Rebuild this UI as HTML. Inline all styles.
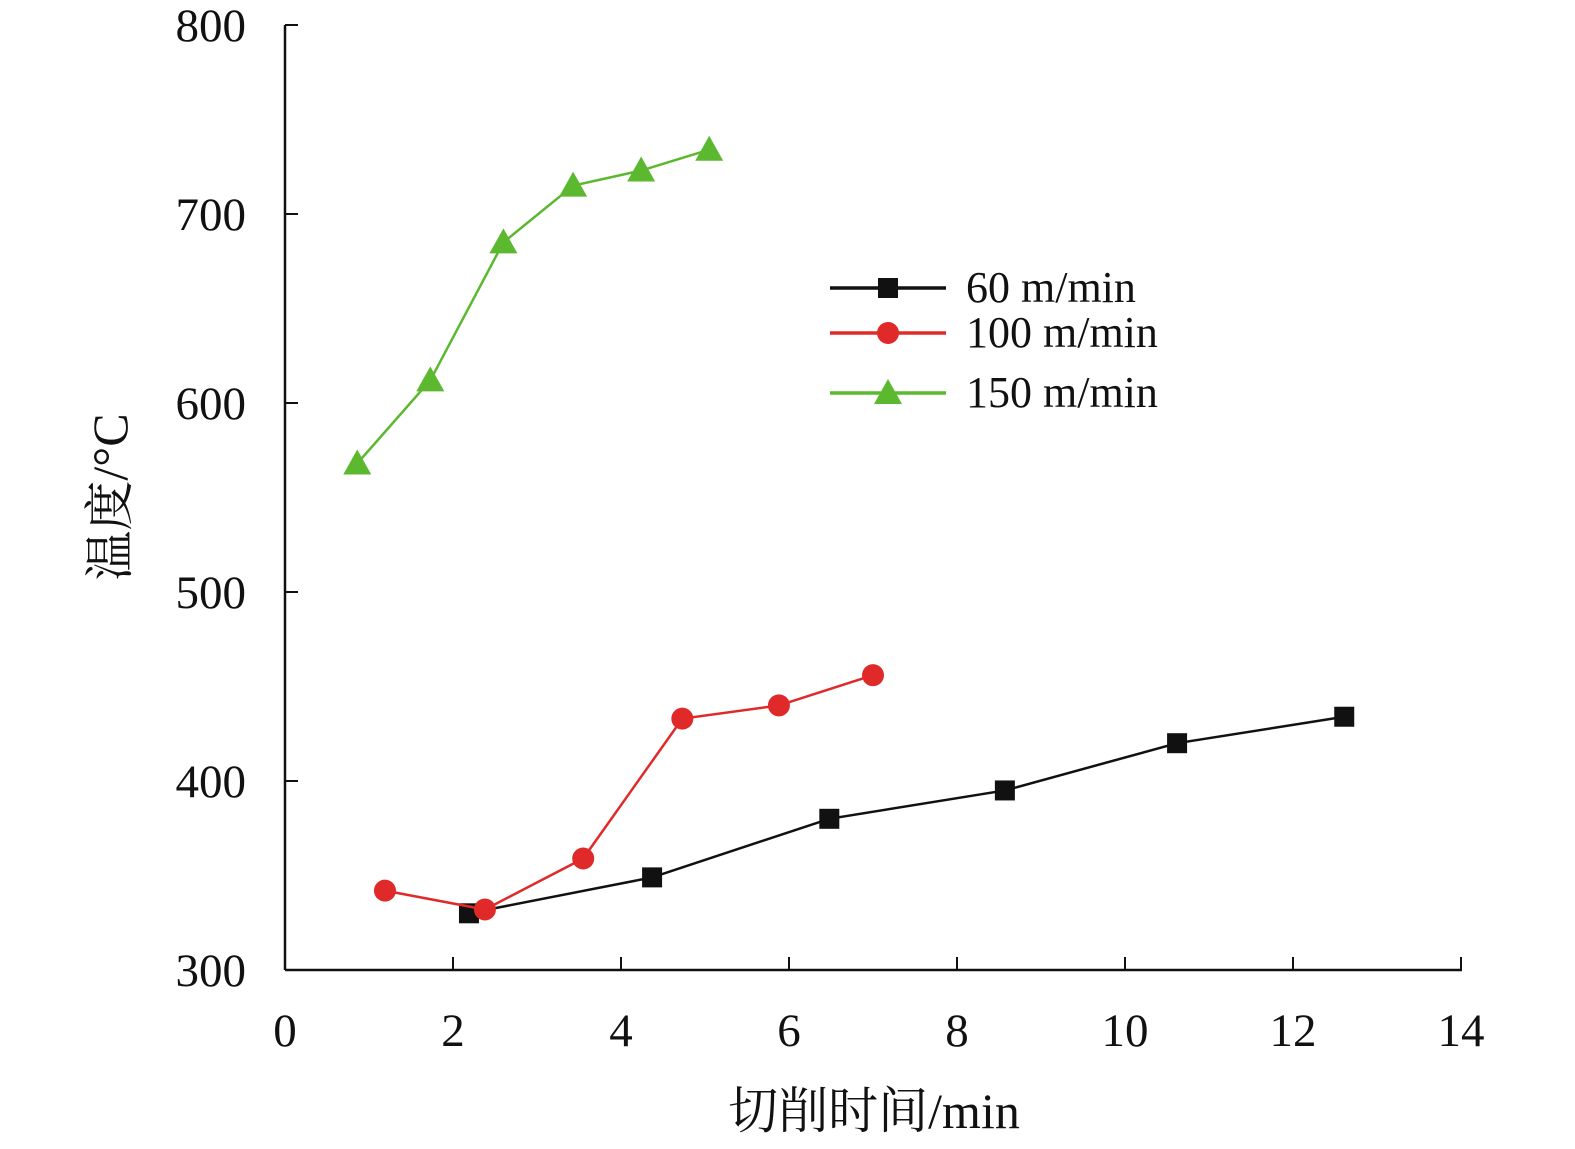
<!DOCTYPE html>
<html><head><meta charset="utf-8"><style>
html,body{margin:0;padding:0;background:#fff;overflow:hidden;}
svg{display:block;}
svg text{font-family:"Liberation Serif","Noto Serif CJK SC",serif;fill:#111;}
</style></head><body>
<svg id="chart" width="1575" height="1149">
<g id="axes"></g>
<g id="plot"></g>
<g id="legend"></g>
<text x="110" y="497" font-size="50" text-anchor="middle" dominant-baseline="central" transform="rotate(-90 110 497)">温度/°C</text>
<text x="874" y="1128" font-size="50" text-anchor="middle">切削时间/min</text>
</svg>
<script>
const xTicks=[0,2,4,6,8,10,12,14];
const yTicks=[300,400,500,600,700,800];
const s60x=[2.19,4.37,6.48,8.57,10.62,12.61];
const s60y=[330,349,380,395,420,434];
const s100x=[1.19,2.38,3.55,4.73,5.88,7.0];
const s100y=[342,332,359,433,440,456];
const s150x=[0.86,1.73,2.6,3.43,4.24,5.05];
const s150y=[568,612,685,715,723,734];
const seriesNames=["60 m/min","100 m/min","150 m/min"];
const NS="http://www.w3.org/2000/svg";
const X=v=>285+v*84, Y=v=>970-(v-300)*1.89;
function mk(t,a,p){const e=document.createElementNS(NS,t);for(const k in a)e.setAttribute(k,a[k]);p.appendChild(e);return e;}
const ax=document.getElementById('axes'),pl=document.getElementById('plot'),lg=document.getElementById('legend');
let e=mk('line',{x1:285,y1:970,x2:1462,y2:970,stroke:'#111','stroke-width':2.5},ax);

e=mk('line',{x1:285,y1:970,x2:285,y2:Y(800),stroke:'#111','stroke-width':2.5},ax);

xTicks.forEach(t=>{mk('line',{x1:X(t),y1:970,x2:X(t),y2:957,stroke:'#111','stroke-width':2},ax);
 const tx=mk('text',{x:X(t),y:1046,'font-size':47,'text-anchor':'middle'},ax);tx.textContent=t;
 });
yTicks.forEach(t=>{mk('line',{x1:285,y1:Y(t),x2:298,y2:Y(t),stroke:'#111','stroke-width':2},ax);
 const tx=mk('text',{x:246,y:Y(t)+16,'font-size':47,'text-anchor':'end'},ax);tx.textContent=t;
 });
function marker(type,cx,cy,col,p){
 if(type==='sq')return mk('rect',{x:cx-10,y:cy-10,width:20,height:20,fill:col},p);
 if(type==='ci')return mk('circle',{cx:cx,cy:cy,r:11,fill:col},p);
 return mk('polygon',{points:`${cx},${cy-14} ${cx-14},${cy+11} ${cx+14},${cy+11}`,fill:col},p);}
const S=[[s60x,s60y,'#111','sq'],[s100x,s100y,'#e02a2a','ci'],[s150x,s150y,'#5cb82e','tr']];
const ly=[288,333,393];
S.forEach((s,i)=>{const g=mk('g',{},pl);
 mk('polyline',{points:s[0].map((x,j)=>X(x)+','+Y(s[1][j])).join(' '),fill:'none',stroke:s[2],'stroke-width':2.5},g);
 s[0].forEach((x,j)=>{const m=marker(s[3],X(x),Y(s[1][j]),s[2],g);});
 const le=mk('g',{},lg);
 mk('line',{x1:830,y1:ly[i],x2:946,y2:ly[i],stroke:s[2],'stroke-width':3.5},le);
 marker(s[3],888,ly[i],s[2],le);
 const t=mk('text',{x:966,y:ly[i]+14,'font-size':44},le);t.textContent=seriesNames[i];});
</script>
</body></html>
